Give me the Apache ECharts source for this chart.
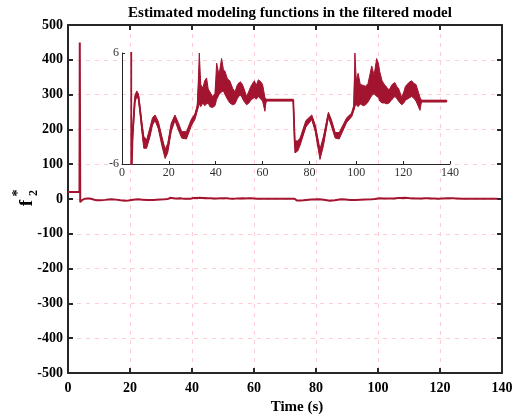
<!DOCTYPE html>
<html><head><meta charset="utf-8">
<script src="https://cdn.jsdelivr.net/npm/echarts@6/dist/echarts.min.js"></script>
<style>html,body{margin:0;padding:0;background:#fff}#c{width:531px;height:420px}</style>
</head><body><div id="c"></div>
<script>
// time (s)
const timeS = [0, 3.7, 3.8, 3.95, 4.5, 5.5, 6.3, 7.0, 7.7, 8.5, 9.3, 10.5, 12, 13, 14.1, 15.5, 17, 18.4, 19.5, 21, 22.6, 24, 25.5, 27.5, 29.7, 31.1, 32.2, 33.0, 33.6, 34.5, 35.3, 36.1, 36.8, 37.5, 38.6, 39.7, 40.4, 41.4, 42.5, 43.3, 44, 45, 46, 47.2, 48.2, 49.3, 50.4, 51.2, 52, 53.2, 54.2, 55, 56.5, 57.3, 58.2, 59.2, 60, 61, 61.5, 73.1, 73.8, 75, 76.0, 78.5, 81.0, 82.5, 84.5, 86, 88.1, 89.5, 91.0, 92.7, 95.9, 98.0, 99.0, 99.4, 100.0, 100.8, 101.7, 103, 104, 105, 106.6, 107.6, 108.7, 109.5, 110, 111, 112, 113, 114, 115.3, 116.5, 117.2, 118, 119.4, 120.3, 121, 122.4, 123.6, 124.6, 125.5, 127.2, 127.8, 138.6];
// lower envelope of f2*
const f2Low = [20, 20, 450, -9, -3.5, 0.6, 1.3, 1.0, -0.5, -2.5, -4.3, -4.3, -3.0, -1.8, -1.3, -2.2, -4.0, -5.4, -4.8, -2.5, -1.3, -2.3, -3.2, -3.3, -1.8, -1.2, -0.2, 0.5, 0.2, 0.6, 0.3, 0.5, 0.6, 0.2, 0.1, 0.3, 1.0, 1.5, 1.8, 1.9, 1.5, 1.0, 0.6, 0.4, 0.5, 1.1, 1.5, 1.2, 0.8, 0.4, 0.6, 0.9, 1.2, 1.0, 1.3, 1.0, 0.8, -0.3, 0.8, 0.8, -4.8, -4.6, -4.0, -2.0, -1.2, -2.5, -5.5, -4.0, -0.9, -2.0, -3.2, -3.3, -1.5, -0.9, -0.2, 0.2, 0.4, 0.2, 0.5, 0.3, 0.4, 0.7, 1.4, 1.6, 1.3, 1.2, 0.8, 0.6, 0.6, 0.5, 0.6, 1.0, 1.3, 1.1, 0.8, 0.4, 0.6, 0.9, 1.1, 1.3, 1.1, 0.8, -0.2, 0.7, 0.7];
// upper envelope of f2*
const f2High = [20, 20, 450, -9, -2.5, 1.4, 1.9, 1.6, 0.2, -1.5, -3.0, -3.4, -2.0, -1.0, -0.7, -1.4, -3.0, -4.4, -3.8, -1.6, -0.7, -1.5, -2.5, -2.5, -1.1, -0.6, 0.4, 6.3, 2.6, 2.2, 3.0, 3.3, 2.1, 1.8, 1.3, 1.6, 4.9, 3.6, 5.4, 4.2, 4.0, 3.2, 3.0, 2.2, 1.8, 2.6, 2.9, 2.7, 2.2, 1.3, 1.9, 2.4, 3.0, 2.5, 3.1, 2.9, 2.6, 1.2, 1.0, 1.0, -3.5, -3.5, -3.2, -1.3, -0.7, -1.8, -4.4, -3.0, -0.4, -1.3, -2.6, -2.6, -1.0, -0.5, 0.4, 6.1, 3.0, 3.8, 2.6, 2.5, 2.4, 2.7, 4.6, 3.6, 5.4, 4.8, 4.0, 3.0, 2.6, 2.3, 2.0, 2.6, 2.8, 2.4, 2.2, 1.2, 1.8, 2.4, 2.8, 3.0, 2.7, 2.6, 1.2, 0.9, 0.9];
const mainXTicks = [0, 20, 40, 60, 80, 100, 120, 140];
const mainYTicks = [-500, -400, -300, -200, -100, 0, 100, 200, 300, 400, 500];
const insetYTicks = [-6, 6];

const RED = '#A2142F';
const AX = '#262626';
const FONT = "'Liberation Serif','Times New Roman',serif";
const f2Mid = timeS.map((t, i) => [t, (f2Low[i] + f2High[i]) / 2]);
const bandStart = timeS.indexOf(4.5);

const chart = echarts.init(document.getElementById('c'), null, {renderer: 'canvas'});
const grid0 = {left: 68, right: 29, top: 25, bottom: 47};
const grid1 = {left: 122, top: 53, width: 328, height: 111};
const dashed = {show: true, lineStyle: {color: '#ffccd4', type: [4, 5], width: 1}};

chart.setOption({
  animation: false,
  backgroundColor: '#fff',
  grid: [Object.assign({containLabel: false}, grid0), Object.assign({containLabel: false}, grid1)],
  graphic: [
    {type: 'text', position: [290, 6], style: {text: 'Estimated modeling functions in the filtered model', font: 'bold 15px ' + FONT, fill: '#000', textAlign: 'center'}},
    {type: 'group', x: 27, y: 199, rotation: Math.PI / 2, children: [
      {type: 'text', x: -4, y: 0, style: {text: 'f', font: 'bold 19px ' + FONT, fill: '#000', textAlign: 'center', textVerticalAlign: 'middle'}},
      {type: 'text', x: 6, y: -9, style: {text: '*', font: 'bold 14px ' + FONT, fill: '#000', textAlign: 'center', textVerticalAlign: 'middle'}},
      {type: 'text', x: 6, y: 7, style: {text: '2', font: 'bold 12px ' + FONT, fill: '#000', textAlign: 'center', textVerticalAlign: 'middle'}}
    ]}
  ],
  xAxis: [
    {type: 'value', gridIndex: 0, min: 0, max: 140, interval: 20, position: 'bottom',
     name: 'Time (s)', nameLocation: 'middle', nameGap: 26,
     nameTextStyle: {fontFamily: FONT, fontWeight: 'bold', fontSize: 15, color: '#000', padding: [0, 0, 0, 24]},
     axisLine: {show: true, onZero: false, lineStyle: {color: AX, width: 2}},
     axisTick: {show: true, inside: true, length: 5, lineStyle: {color: AX, width: 2}},
     axisLabel: {fontFamily: FONT, fontWeight: 'bold', fontSize: 14, color: '#000', margin: 8},
     splitLine: dashed},
    {type: 'value', gridIndex: 0, min: 0, max: 140, interval: 20, position: 'top',
     axisLine: {show: true, onZero: false, lineStyle: {color: AX, width: 2}},
     axisTick: {show: true, inside: true, length: 5, lineStyle: {color: AX, width: 2}},
     axisLabel: {show: false}, splitLine: {show: false}},
    {type: 'value', gridIndex: 1, min: 0, max: 140, interval: 20, position: 'bottom',
     axisLine: {show: true, onZero: false, lineStyle: {color: AX, width: 1}},
     axisTick: {show: true, inside: true, length: 3, lineStyle: {color: AX, width: 1}},
     axisLabel: {fontFamily: FONT, fontSize: 12, color: '#333', margin: 3},
     splitLine: {show: false}}
  ],
  yAxis: [
    {type: 'value', gridIndex: 0, min: -500, max: 500, interval: 100, position: 'left',
     axisLine: {show: true, onZero: false, lineStyle: {color: AX, width: 2}},
     axisTick: {show: true, inside: true, length: 5, lineStyle: {color: AX, width: 2}},
     axisLabel: {fontFamily: FONT, fontWeight: 'bold', fontSize: 14, color: '#000', margin: 5},
     splitLine: dashed},
    {type: 'value', gridIndex: 0, min: -500, max: 500, interval: 100, position: 'right',
     axisLine: {show: true, onZero: false, lineStyle: {color: AX, width: 2}},
     axisTick: {show: true, inside: true, length: 5, lineStyle: {color: AX, width: 2}},
     axisLabel: {show: false}, splitLine: {show: false}},
    {type: 'value', gridIndex: 1, min: -6, max: 6, interval: 12, position: 'left',
     axisLine: {show: true, onZero: false, lineStyle: {color: AX, width: 1}},
     axisTick: {show: true, inside: true, length: 3, lineStyle: {color: AX, width: 1}},
     axisLabel: {fontFamily: FONT, fontSize: 12, color: '#333', margin: 3},
     splitLine: {show: false}}
  ],
  series: [
    {type: 'line', xAxisIndex: 0, yAxisIndex: 0, data: f2Mid, showSymbol: false, symbol: 'none',
     lineStyle: {color: RED, width: 2}, clip: true, z: 3},
    {type: 'custom', xAxisIndex: 2, yAxisIndex: 2, data: [[0, 0]], z: 4,
     renderItem: function (params, api) {
       if (params.dataIndex !== 0) return null;
       const pts = [];
       for (let i = bandStart; i < timeS.length; i++) pts.push(api.coord([timeS[i], f2High[i]]));
       for (let i = timeS.length - 1; i >= bandStart; i--) pts.push(api.coord([timeS[i], f2Low[i]]));
       const cs = params.coordSys;
       const clipped = echarts.graphic.clipPointsByRect(pts, {x: cs.x, y: cs.y, width: cs.width, height: cs.height});
       return {type: 'polygon', shape: {points: clipped}, style: {fill: RED, stroke: RED, lineWidth: 1}};
     }},
    {type: 'line', xAxisIndex: 2, yAxisIndex: 2, data: f2Mid, showSymbol: false, symbol: 'none',
     lineStyle: {color: RED, width: 1.8}, clip: true, z: 5}
  ]
});
</script></body></html>
